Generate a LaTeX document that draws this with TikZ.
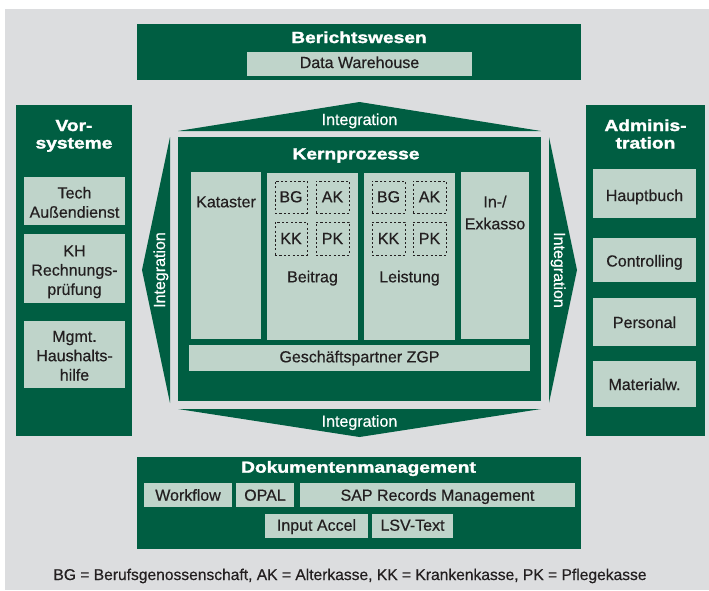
\documentclass[tikz,border=0pt]{standalone}
\usepackage{fontspec}
\setmainfont{Liberation Sans}[FakeBold=0.5]
\newfontfamily\heavyfont[FakeStretch=1.2,FakeBold=1.8]{Liberation Sans Bold}
\definecolor{dk}{HTML}{005E42}
\definecolor{lt}{HTML}{BFD4CA}
\definecolor{bgc}{HTML}{DCDDDF}
\definecolor{tx}{HTML}{231F20}
\newcommand\rbox[6]{\node[#1, anchor=north west, minimum width={(#5-#3)*1pt}, minimum height={(#6-#4)*1pt}] (#2) at (#3,#4) {};}
\tikzset{
  dkbox/.style={fill=dk, draw=none, inner sep=0pt, outer sep=0pt},
  ltbox/.style={fill=lt, draw=none, inner sep=0pt, outer sep=0pt},
  dashbox/.style={draw=tx, line width=0.8pt, dash pattern=on 2.2pt off 2.2pt, inner sep=0pt, outer sep=0pt},
  txt/.style={text=tx, anchor=base, align=center, inner sep=0pt, font=\fontsize{16}{19.3}\selectfont},
  ttl/.style={text=white, anchor=base, align=center, inner sep=0pt, font=\heavyfont\fontsize{16}{17.5}\selectfont},
  integ/.style={text=white, anchor=base, inner sep=0pt, font=\fontsize{16}{19}\selectfont},
  arrowshape/.style={fill=dk, draw=none}
}
\begin{document}
\begin{tikzpicture}[x=1pt,y=-1pt]
\useasboundingbox (0,0) rectangle (709,590);
\fill[bgc] (5,9) rectangle (709,590);

% Berichtswesen
\rbox{dkbox}{ber}{137}{24}{581}{80}
\node[ttl] (berT) at (359,43) {Berichtswesen};
\rbox{ltbox}{dwh}{247}{52}{472}{76}
\node[txt] (dwhT) at (359.5,68) {Data Warehouse};

% Vorsysteme
\rbox{dkbox}{vor}{16}{105}{132}{436}
\node[ttl] (vorT) at (74,148.5) {Vor-\\systeme};
\rbox{ltbox}{tech}{24}{177}{125}{225}
\node[txt] (techT) at (74.5,217.7) {Tech\\Außendienst};
\rbox{ltbox}{kh}{24}{234}{125}{303}
\node[txt] (khT) at (74.5,294.9) {KH\\Rechnungs-\\prüfung};
\rbox{ltbox}{mg}{24}{321}{125}{388}
\node[txt] (mgT) at (74.5,380.5) {Mgmt.\\Haushalts-\\hilfe};

% Administration
\rbox{dkbox}{adm}{586}{105}{705}{436}
\node[ttl] (admT) at (645.5,148.5) {Adminis-\\tration};
\rbox{ltbox}{hb}{593}{169}{696}{218}
\node[txt] (hbT) at (644.5,201) {Hauptbuch};
\rbox{ltbox}{co}{593}{238}{696}{282}
\node[txt] (coT) at (644.5,266.5) {Controlling};
\rbox{ltbox}{pe}{593}{298}{696}{346}
\node[txt] (peT) at (644.5,328) {Personal};
\rbox{ltbox}{ma}{593}{361}{696}{407}
\node[txt] (maT) at (644.5,390) {Materialw.};

% Integration arrows
\fill[arrowshape] (178,131) -- (541,131) -- (359.5,102) -- cycle;
\node[integ] (intTop) at (359.5,125) {Integration};
\fill[arrowshape] (178,409) -- (541,409) -- (359.5,437) -- cycle;
\node[integ] (intBot) at (359.5,426.7) {Integration};
\fill[arrowshape] (170,137) -- (170,403) -- (142,270) -- cycle;
\node[integ, rotate=90] (intL) at (165,270) {Integration};
\fill[arrowshape] (549,137) -- (549,403) -- (577,270) -- cycle;
\node[integ, rotate=-90] (intR) at (554,270) {Integration};

% Kernprozesse
\rbox{dkbox}{kern}{178}{137}{541}{401}
\node[ttl] (kernT) at (356,159.3) {Kernprozesse};
\rbox{ltbox}{kat}{191}{172}{261}{339}
\node[txt] (katT) at (226,207.3) {Kataster};
\rbox{ltbox}{bei}{267}{173}{358}{340}
\node[txt] (beiT) at (312.5,282.3) {Beitrag};
\rbox{ltbox}{lei}{364}{173}{455}{340}
\node[txt] (leiT) at (409.5,282.3) {Leistung};
\rbox{ltbox}{ink}{461}{172}{529}{339}
\node[txt, font=\fontsize{16}{22}\selectfont] (inkT) at (495,229.3) {In-/\\Exkasso};
\rbox{ltbox}{zgp}{189}{345}{530}{371}
\node[txt] (zgpT) at (359.5,362.3) {Geschäftspartner ZGP};

% dashed sub boxes
\rbox{dashbox}{bBG}{275}{181}{307}{213}
\rbox{dashbox}{bAK}{316}{181}{349}{213}
\rbox{dashbox}{bKK}{275}{222}{307}{255}
\rbox{dashbox}{bPK}{316}{222}{349}{255}
\rbox{dashbox}{lBG}{372}{181}{405}{213}
\rbox{dashbox}{lAK}{413}{181}{446}{213}
\rbox{dashbox}{lKK}{372}{222}{405}{255}
\rbox{dashbox}{lPK}{413}{222}{446}{255}
\node[txt] (bBGT) at (291,202.3) {BG};
\node[txt] (bAKT) at (332.5,202.3) {AK};
\node[txt] (bKKT) at (291,244) {KK};
\node[txt] (bPKT) at (332.5,244) {PK};
\node[txt] (lBGT) at (388.5,202.3) {BG};
\node[txt] (lAKT) at (429.5,202.3) {AK};
\node[txt] (lKKT) at (388.5,244) {KK};
\node[txt] (lPKT) at (429.5,244) {PK};

% Dokumentenmanagement
\rbox{dkbox}{dok}{137}{457}{581}{549}
\node[ttl] (dokT) at (358.5,472.7) {Dokumentenmanagement};
\rbox{ltbox}{wf}{144}{483}{232}{507}
\node[txt] (wfT) at (188,500.7) {Workflow};
\rbox{ltbox}{op}{236}{483}{294}{507}
\node[txt] (opT) at (265,500.7) {OPAL};
\rbox{ltbox}{sap}{300}{483}{575}{507}
\node[txt] (sapT) at (437.5,500.7) {SAP Records Management};
\rbox{ltbox}{ia}{265}{514}{368}{538}
\node[txt] (iaT) at (316.5,530.7) {Input Accel};
\rbox{ltbox}{lsv}{372}{514}{453}{538}
\node[txt] (lsvT) at (412.5,530.7) {LSV-Text};

% legend
\node[txt, font=\fontsize{15.6}{18}\selectfont] (leg) at (350,580) {BG = Berufsgenossenschaft, AK = Alterkasse, KK = Krankenkasse, PK = Pflegekasse};
\end{tikzpicture}
\end{document}
